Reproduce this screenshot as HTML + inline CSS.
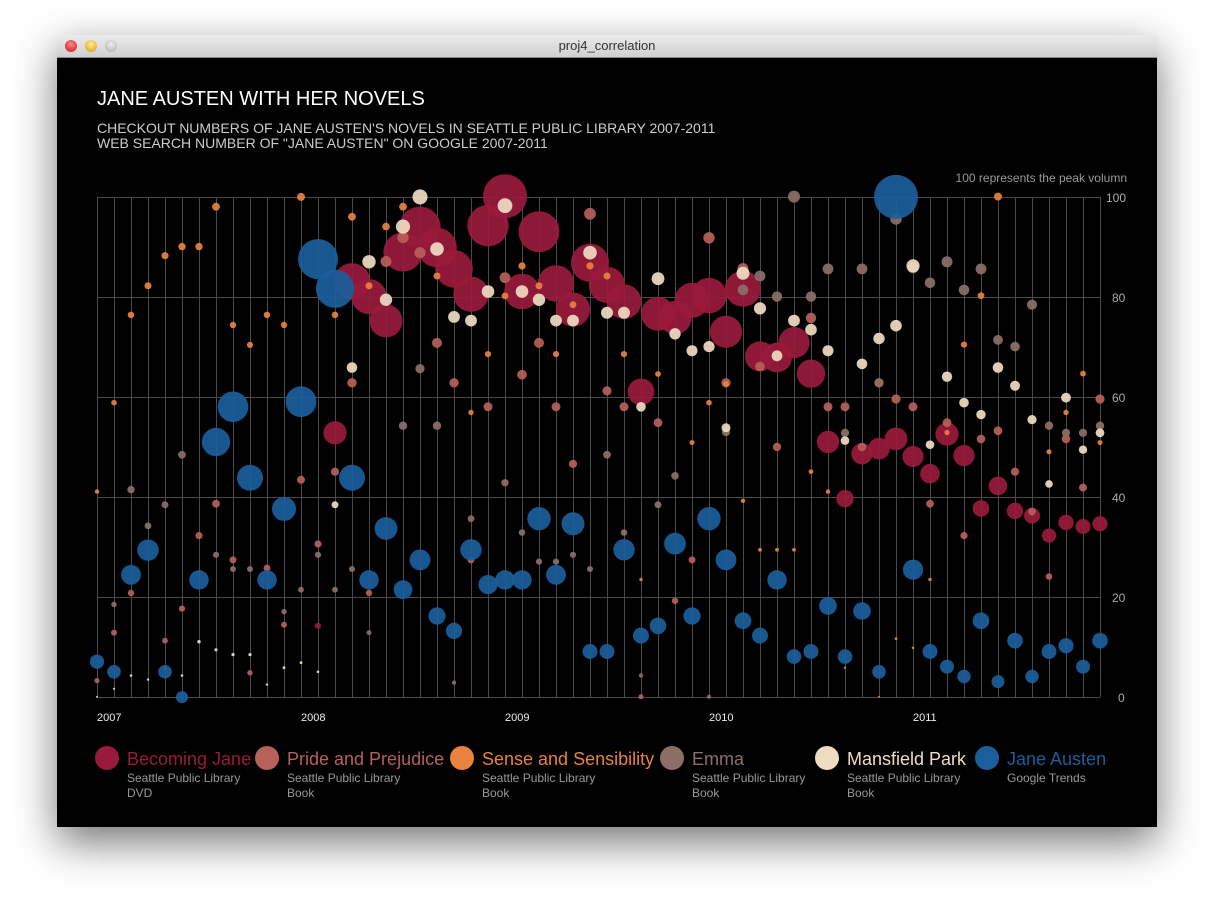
<!DOCTYPE html>
<html><head><meta charset="utf-8"><style>
html,body{margin:0;padding:0;background:#fff;width:1214px;height:906px;overflow:hidden;font-family:"Liberation Sans",sans-serif}
#win{position:absolute;left:57px;top:35px;width:1100px;height:792px;box-shadow:0 15px 40px rgba(0,0,0,0.55);background:#000}
#bar{position:absolute;left:0;top:0;width:1100px;height:22px;background:linear-gradient(#ececec,#cfcfcf);border-bottom:1px solid #888;text-align:center;font-size:13px;line-height:22px;color:#333}
.b{position:absolute;top:5px;width:12px;height:12px;border-radius:50%}
svg{position:absolute;left:0;top:0}
</style></head><body>
<div id="win"><div id="bar">proj4_correlation
<div class="b" style="left:8px;background:radial-gradient(circle at 50% 35%,#f88,#c11)"></div>
<div class="b" style="left:28px;background:radial-gradient(circle at 50% 35%,#fe9,#d90)"></div>
<div class="b" style="left:48px;background:radial-gradient(circle at 50% 35%,#eee,#aaa)"></div>
</div></div>
<svg id="s" width="1214" height="906" xmlns="http://www.w3.org/2000/svg" font-family="Liberation Sans, sans-serif">
<text x="97" y="105" fill="#fff" font-size="20">JANE AUSTEN WITH HER NOVELS</text>
<text x="97" y="133" fill="#ccc" font-size="14">CHECKOUT NUMBERS OF JANE AUSTEN'S NOVELS IN SEATTLE PUBLIC LIBRARY 2007-2011</text>
<text x="97" y="148" fill="#ccc" font-size="14">WEB SEARCH NUMBER OF "JANE AUSTEN" ON GOOGLE 2007-2011</text>
<text x="1127" y="182" fill="#999" font-size="12" text-anchor="end">100 represents the peak volumn</text>
<g id="grid" stroke="#4a4a4a" stroke-width="1"></g>
<g id="pts"></g>
<g fill="#aaa" font-size="12">
<text x="1106" y="202">100</text><text x="1112" y="302">80</text><text x="1112" y="402">60</text><text x="1112" y="502">40</text><text x="1112" y="602">20</text><text x="1118" y="702">0</text>
</g>
<g fill="#eee" font-size="11">
<text x="97" y="721">2007</text><text x="301" y="721">2008</text><text x="505" y="721">2009</text><text x="709" y="721">2010</text><text x="913" y="721">2011</text>
</g>
<g id="leg" font-size="18"></g>
</svg>
<script>
var g=document.getElementById('grid'),h='';
for(var i=0;i<60;i++){var x=97+17*i+0.5;h+='<line x1="'+x+'" y1="197" x2="'+x+'" y2="697"/>';}
for(var k=0;k<6;k++){var y=197.5+k*100;h+='<line x1="97" y1="'+y+'" x2="1100" y2="'+y+'"/>';}
g.innerHTML=h;
var S=[
{c:'#9a1a3c',r:function(v){return Math.max(2,0.22*v)},d:[[13,1319],[14,748],[15,300],[16,345],[17,417],[18,213],[19,140],[20,200],[21,263],[22,338],[23,135],[24,48],[25,330],[26,153],[27,306],[28,383],[29,245],[30,310],[31,360],[32,627],[33,396],[34,407],[35,356],[36,342],[37,449],[38,322],[39,522],[40,525],[41,481],[42,573],[43,775],[44,943],[45,810],[46,795],[47,766],[48,818],[49,869],[50,752],[51,815],[52,972],[53,905],[54,979],[55,993],[56,1052],[57,1013],[58,1025],[59,1017]]},
{c:'#b8605a',r:function(v){return 2.5+0.035*v},d:[[0,1481],[1,1339],[2,1222],[4,1363],[5,1268],[6,1052],[7,958],[8,1124],[9,1458],[10,1148],[11,1316],[12,887],[13,1077],[14,863],[15,600],[16,1222],[17,241],[18,170],[19,215],[20,482],[21,600],[22,1124],[23,671],[24,289],[25,576],[26,482],[27,671],[28,840],[29,100],[30,624],[31,671],[32,1529],[33,718],[34,1245],[35,1124],[36,171],[37,600],[38,262],[39,552],[40,790],[42,408],[43,671],[44,671],[45,790],[46,600],[47,648],[48,671],[49,958],[50,718],[51,1052],[52,766],[53,742],[54,863],[55,981],[56,1173],[57,766],[58,910],[59,648]]},
{c:'#e8823e',r:function(v){return 1+0.03*v},d:[[0,922],[1,659],[2,399],[3,313],[4,224],[5,197],[6,197],[7,79],[8,429],[9,488],[10,399],[11,429],[12,50],[14,399],[15,109],[16,313],[17,138],[18,79],[20,284],[22,688],[23,515],[24,343],[25,254],[26,313],[27,515],[28,369],[29,254],[30,284],[31,515],[32,1182],[33,574],[35,777],[36,659],[37,603],[38,949],[39,1094],[40,1094],[41,1094],[42,863],[43,922],[44,1443],[46,1529],[47,1357],[48,1384],[49,1182],[50,747],[51,487],[52,342],[53,49],[56,804],[57,688],[58,573],[59,777]]},
{c:'#8c7068',r:function(v){return 2+0.04*v},d:[[1,1256],[2,916],[3,1023],[4,961],[5,813],[7,1109],[8,1151],[9,1151],[11,1277],[12,1212],[13,1109],[14,1212],[15,1151],[16,1339],[18,727],[19,558],[20,727],[21,1487],[22,1002],[24,896],[25,1043],[26,1129],[27,1129],[28,1109],[29,1151],[30,813],[31,1043],[32,1466],[33,961],[34,875],[36,1529],[37,746],[38,325],[39,284],[40,345],[41,49],[42,345],[43,263],[44,748],[45,263],[46,600],[47,115],[48,260],[49,304],[50,242],[51,325],[52,263],[53,473],[54,493],[55,369],[56,727],[57,748],[58,748],[59,727]]},
{c:'#f0dcc2',r:function(v){return 1+0.065*v},d:[[0,1529],[1,1505],[2,1466],[3,1478],[4,1443],[5,1466],[6,1366],[7,1390],[8,1404],[9,1404],[10,1493],[11,1443],[12,1428],[13,1455],[14,961],[15,555],[16,242],[17,354],[18,138],[19,50],[20,204],[21,405],[22,416],[23,330],[24,76],[25,330],[26,354],[27,416],[28,416],[29,215],[30,393],[31,393],[32,671],[33,292],[34,455],[35,505],[36,493],[37,733],[38,276],[39,380],[40,520],[41,416],[42,443],[43,505],[44,771],[45,544],[46,469],[47,431],[48,254],[49,783],[50,582],[51,659],[52,694],[53,555],[54,609],[55,709],[56,899],[57,644],[58,798],[59,748]]},
{c:'#1b5e9c',r:function(v){return 6+0.16*v},d:[[0,1425],[1,1455],[2,1168],[3,1095],[4,1455],[5,1530],[6,1183],[7,775],[8,671],[9,881],[10,1183],[11,973],[12,656],[13,234],[14,322],[15,881],[16,1183],[17,1031],[18,1212],[19,1124],[20,1290],[21,1334],[22,1094],[23,1197],[24,1183],[25,1183],[26,1002],[27,1168],[28,1017],[29,1395],[30,1395],[31,1094],[32,1348],[33,1319],[34,1076],[35,1290],[36,1002],[37,1124],[38,1304],[39,1348],[40,1183],[41,1410],[42,1395],[43,1260],[44,1410],[45,1275],[46,1455],[47,50],[48,1153],[49,1395],[50,1440],[51,1469],[52,1304],[53,1484],[54,1363],[55,1469],[56,1395],[57,1378],[58,1440],[59,1363]]}
];
var p='';
S.forEach(function(s){s.d.forEach(function(q){var x=97+17*q[0],y=180+q[1]*0.338,v=Math.max(0,(697-y)/5);
p+='<circle cx="'+x+'" cy="'+y.toFixed(1)+'" r="'+s.r(v).toFixed(1)+'" fill="'+s.c+'" fill-opacity="0.92"/>';});});
document.getElementById('pts').innerHTML=p;
var L=[['Becoming Jane','#9a1a3c','Seattle Public Library','DVD',107],['Pride and Prejudice','#b8605a','Seattle Public Library','Book',267],['Sense and Sensibility','#e8823e','Seattle Public Library','Book',462],['Emma','#8c7068','Seattle Public Library','Book',672],['Mansfield Park','#f0dcc2','Seattle Public Library','Book',827],['Jane Austen','#1b5e9c','Google Trends','',987]];
var l='';
L.forEach(function(a){l+='<circle cx="'+a[4]+'" cy="758" r="12" fill="'+a[1]+'"/><text x="'+(a[4]+20)+'" y="765" fill="'+a[1]+'">'+a[0]+'</text><text x="'+(a[4]+20)+'" y="782" fill="#999" font-size="12">'+a[2]+'</text><text x="'+(a[4]+20)+'" y="797" fill="#999" font-size="12">'+a[3]+'</text>';});
document.getElementById('leg').innerHTML=l;
</script>
</body></html>
